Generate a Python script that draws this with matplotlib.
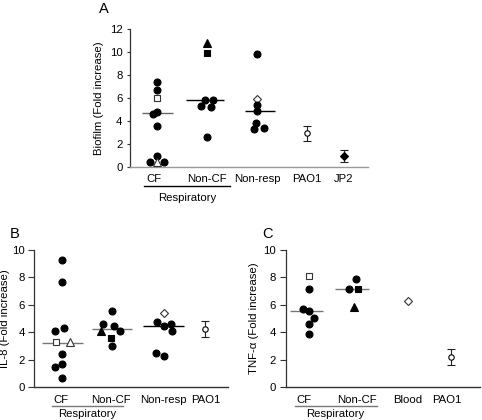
import matplotlib
matplotlib.use('Agg')
import matplotlib.pyplot as plt
from matplotlib.transforms import blended_transform_factory, ScaledTranslation

plt.rcParams['font.family'] = ['Liberation Sans', 'DejaVu Sans']

W, H = 482, 420

# ---------------- Panel A: Biofilm ----------------
A_cats = ['CF', 'Non-CF', 'Non-resp', 'PAO1', 'JP2']
A_cf_vals = [7.4, 6.7, 5.95, 4.8, 4.6, 3.55, 0.95, 0.38, 0.38, 0.38]
A_cf_mark = ['o', 'o', 'S', 'o', 'o', 'o', 'o', 'o', 'T', 'o']
A_cf_jit = [0, 0, 0, 0, -0.08, 0, 0, -0.14, 0, 0.14]
A_cf_median = 4.68
A_noncf_vals = [10.8, 9.88, 5.78, 5.78, 5.29, 5.23, 2.56]
A_noncf_mark = ['^', 's', 'o', 'o', 'o', 'o', 'o']
A_noncf_jit = [0, 0, -0.04, 0.11, -0.12, 0.08, 0]
A_noncf_median = 5.78
A_nonresp_vals = [9.85, 5.93, 5.38, 4.88, 3.78, 3.25, 3.38]
A_nonresp_mark = ['o', 'D', 'o', 'o', 'o', 'o', 'o']
A_nonresp_jit = [0, 0, 0, 0, -0.02, -0.06, 0.13]
A_nonresp_median = 4.85
A_pao1_mean, A_pao1_err = 2.9, 0.68
A_jp2_mean, A_jp2_err = 0.95, 0.52

# ---------------- Panel B: IL-8 ----------------
B_cats = ['CF', 'Non-CF', 'Non-resp', 'PAO1']
B_cf_vals = [9.27, 7.69, 4.30, 4.13, 3.28, 3.28, 2.40, 1.70, 1.50, 0.66]
B_cf_mark = ['o', 'o', 'o', 'o', 'S', 'T', 'o', 'o', 'o', 'o']
B_cf_jit = [0, 0, 0.03, -0.14, -0.12, 0.16, 0, 0, -0.14, 0]
B_cf_median = 3.25
B_noncf_vals = [5.53, 4.61, 4.47, 4.13, 4.13, 3.62, 3.01]
B_noncf_mark = ['o', 'o', 'o', 'o', '^', 's', 'o']
B_noncf_jit = [0, -0.19, 0.04, 0.15, -0.22, -0.02, 0]
B_noncf_median = 4.27
B_nonresp_vals = [5.44, 4.73, 4.49, 4.61, 4.13, 2.52, 2.31]
B_nonresp_mark = ['D', 'o', 'o', 'o', 'o', 'o', 'o']
B_nonresp_jit = [0, -0.13, 0, 0.15, 0.17, -0.16, 0]
B_nonresp_median = 4.44
B_pao1_mean, B_pao1_err = 4.25, 0.58

# ---------------- Panel C: TNF-alpha ----------------
C_cats = ['CF', 'Non-CF', 'Blood', 'PAO1']
C_cf_vals = [8.13, 7.14, 5.68, 5.58, 5.02, 4.59, 3.86]
C_cf_mark = ['S', 'o', 'o', 'o', 'o', 'o', 'o']
C_cf_jit = [0, 0, -0.13, 0, 0.09, 0, 0]
C_cf_median = 5.58
C_noncf_vals = [7.86, 7.14, 7.14, 5.87]
C_noncf_mark = ['o', 'o', 's', '^']
C_noncf_jit = [0, -0.14, 0.05, -0.04]
C_noncf_median = 7.16
C_blood_val = 6.29
C_pao1_mean, C_pao1_err = 2.2, 0.56

# marker code -> (matplotlib marker, filled, size)
MK = {
    'o': ('o', True, 5.0),
    's': ('s', True, 5.0),
    '^': ('^', True, 6.0),
    'S': ('s', False, 5.0),
    'T': ('^', False, 6.0),
    'D': ('D', False, 4.0),
    'd': ('D', True, 4.0),
}

fig = plt.figure(figsize=(W / 100, H / 100), dpi=100)


def add_axes_px(left, right, top, bottom):
    return fig.add_axes([left / W, 1 - bottom / H, (right - left) / W, (bottom - top) / H])


def draw_group(ax, x, vals, marks, jit):
    for v, m, j in zip(vals, marks, jit):
        mk, filled, ms = MK[m]
        ax.plot(x + j, v, marker=mk, ms=ms, mfc='black' if filled else 'white',
                mec='black' if filled else '#333333', mew=0.8, ls='none',
                clip_on=False, zorder=3)


def draw_median(ax, x, y, width, color):
    ax.plot([x - width / 2, x + width / 2], [y, y], color=color, lw=1.0, zorder=2,
            solid_capstyle='butt')


def draw_err(ax, x, mean, err, marker='o', filled=False):
    ax.errorbar([x], [mean], yerr=[err], fmt='none', ecolor='#222222', elinewidth=0.8,
                capsize=2.6, capthick=0.8, zorder=2)
    ax.plot([x], [mean], marker=marker, ms=3.9 if marker == 'o' else 4.2,
            mfc='black' if filled else 'white', mec='black', mew=0.8, ls='none', zorder=3)


def style_axes(ax, ymax, ylabel, ticklen, bottom_color, labelpad):
    ax.set_ylim(0, ymax)
    for s in ['top', 'right']:
        ax.spines[s].set_visible(False)
    ax.spines['left'].set_color('#333333')
    ax.spines['bottom'].set_color(bottom_color)
    ax.spines['left'].set_linewidth(0.9)
    ax.spines['bottom'].set_linewidth(1.0)
    ax.set_yticks(range(0, ymax + 1, 2))
    ax.tick_params(axis='y', direction='out', length=ticklen, width=0.8, color='#333333',
                   labelsize=8.2, pad=2.5)
    ax.tick_params(axis='x', length=0, labelbottom=False)
    ax.set_ylabel(ylabel, fontsize=8.2, labelpad=labelpad)
    ax.patch.set_alpha(0)


def cat_labels(ax, xs, labels, base_px, line_px, line_x, resp_x, resp_px, line_color):
    tr = blended_transform_factory(ax.transData, ax.transAxes)
    for x, lab in zip(xs, labels):
        ax.text(x, 0, lab, transform=tr + ScaledTranslation(0, -base_px / 100, fig.dpi_scale_trans),
                ha='center', va='baseline', fontsize=8.2)
    ax.plot(line_x, [0, 0], color=line_color, lw=1.0, clip_on=False,
            transform=tr + ScaledTranslation(0, -line_px / 100, fig.dpi_scale_trans))
    ax.text(resp_x, 0, 'Respiratory', transform=tr + ScaledTranslation(0, -resp_px / 100, fig.dpi_scale_trans),
            ha='center', va='baseline', fontsize=8.2)


# ---------- Panel A ----------
axA = add_axes_px(129.5, 368, 29, 166.7)
axA.set_xlim(0.45, 5.22)
A_pos = [1, 2, 3, 4, 4.73]
draw_group(axA, A_pos[0], A_cf_vals, A_cf_mark, A_cf_jit)
draw_group(axA, A_pos[1], A_noncf_vals, A_noncf_mark, A_noncf_jit)
draw_group(axA, A_pos[2], A_nonresp_vals, A_nonresp_mark, A_nonresp_jit)
draw_median(axA, A_pos[0], A_cf_median, 0.62, '#666666')
draw_median(axA, A_pos[1] - 0.04, A_noncf_median, 0.76, 'black')
draw_median(axA, A_pos[2] + 0.05, A_nonresp_median, 0.6, 'black')
draw_err(axA, A_pos[3], A_pao1_mean, A_pao1_err)
draw_err(axA, A_pos[4], A_jp2_mean, A_jp2_err, marker='D', filled=True)
style_axes(axA, 12, 'Biofilm (Fold increase)', 2.5, '#999999', 4)
cat_labels(axA, [A_pos[0] - 0.06] + A_pos[1:], A_cats, 15.6, 19.3, [0.74, 2.46], 1.6, 34, 'black')

# ---------- Panel B ----------
axB = add_axes_px(34.3, 228, 250, 387.3)
axB.set_xlim(0.44, 4.32)
B_pos = [1, 2, 3.03, 3.86]
draw_group(axB, B_pos[0], B_cf_vals, B_cf_mark, B_cf_jit)
draw_group(axB, B_pos[1], B_noncf_vals, B_noncf_mark, B_noncf_jit)
draw_group(axB, B_pos[2], B_nonresp_vals, B_nonresp_mark, B_nonresp_jit)
draw_median(axB, B_pos[0], B_cf_median, 0.82, '#777777')
draw_median(axB, B_pos[1], B_noncf_median, 0.8, '#777777')
draw_median(axB, B_pos[2], B_nonresp_median, 0.82, 'black')
draw_err(axB, B_pos[3], B_pao1_mean, B_pao1_err)
style_axes(axB, 10, 'IL-8 (Fold increase)', 4.5, '#333333', 1.5)
cat_labels(axB, [B_pos[0] - 0.02, B_pos[1] - 0.02, B_pos[2] - 0.01, B_pos[3] + 0.02],
           B_cats, 15.3, 19, [0.79, 2.22], 1.5, 30, '#777777')

# ---------- Panel C ----------
axC = add_axes_px(285.7, 480, 250, 387.3)
axC.set_xlim(0.534, 4.42)
C_pos = [1, 1.93, 2.97, 3.83]
draw_group(axC, C_pos[0], C_cf_vals, C_cf_mark, C_cf_jit)
draw_group(axC, C_pos[1], C_noncf_vals, C_noncf_mark, C_noncf_jit)
draw_median(axC, C_pos[0] - 0.05, C_cf_median, 0.66, '#777777')
draw_median(axC, C_pos[1] - 0.08, C_noncf_median, 0.68, '#777777')
axC.plot([C_pos[2]], [C_blood_val], marker='D', ms=4.0, mfc='white', mec='#333333',
         mew=0.8, ls='none', zorder=3)
draw_err(axC, C_pos[3], C_pao1_mean, C_pao1_err)
style_axes(axC, 10, 'TNF-α (Fold increase)', 4.5, '#333333', 3)
cat_labels(axC, [C_pos[0] - 0.11, C_pos[1] + 0.03, C_pos[2], C_pos[3] - 0.08],
           C_cats, 15.3, 19, [0.71, 2.35], 1.53, 30, '#777777')

# panel letters
fig.text(99 / W, 1 - 13.3 / H, 'A', fontsize=10.5, ha='left', va='baseline')
fig.text(10 / W, 1 - 238 / H, 'B', fontsize=10.5, ha='left', va='baseline')
fig.text(262 / W, 1 - 238 / H, 'C', fontsize=10.5, ha='left', va='baseline')

fig.savefig('out.png', dpi=100)
